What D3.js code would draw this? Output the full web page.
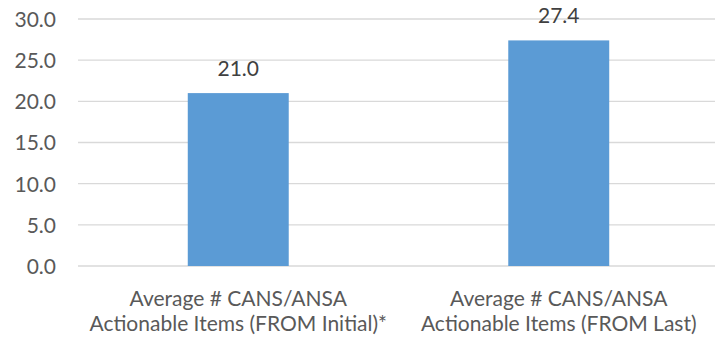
<!DOCTYPE html>
<html><head><meta charset="utf-8">
<script src="https://cdn.jsdelivr.net/npm/d3@7"></script>
<style>body{margin:0;background:#fff}svg{display:block}text{font-family:Lato,"Open Sans",sans-serif}</style>
</head><body><svg id="c" width="715" height="339"></svg>
<script>
const categories = [["Average # CANS/ANSA","Actionable Items (FROM Initial)*"],["Average # CANS/ANSA","Actionable Items (FROM Last)"]];
const values = [21.0, 27.4];
const yTicks = [0,5,10,15,20,25,30];

(function(){
const svg = d3.select("#c");
const mLeft = 78, mRight = 719, mTop = 19, mBottom = 266;
const x = d3.scaleBand().domain(d3.range(categories.length)).range([mLeft,mRight]).padding(0);
const y = d3.scaleLinear().domain([0,30]).range([mBottom,mTop]);
const barW = x.bandwidth()*0.315;

svg.append("g").selectAll("line").data(yTicks).join("line")
  .attr("x1",mLeft).attr("x2",mRight).attr("y1",d=>y(d)).attr("y2",d=>y(d))
  .attr("stroke","#d9d9d9").attr("stroke-width",1.3);

const yAxis = d3.axisLeft(y).tickValues(yTicks).tickFormat(d3.format(".1f")).tickSize(0).tickPadding(0);
const ga = svg.append("g").attr("transform",`translate(${mLeft-22},0)`).call(yAxis);
ga.select(".domain").remove();
ga.selectAll("text").attr("font-size",21).attr("fill","#595959").attr("font-family","Lato").attr("dy","0.35em");

svg.append("g").selectAll("rect").data(values).join("rect")
  .attr("x",(d,i)=>x(i)+x.bandwidth()/2-barW/2).attr("width",barW)
  .attr("y",d=>y(d)).attr("height",d=>mBottom-y(d)).attr("fill","#5B9BD5");

svg.append("g").selectAll("text").data(values).join("text")
  .attr("x",(d,i)=>x(i)+x.bandwidth()/2).attr("y",d=>y(d)-17)
  .attr("text-anchor","middle").attr("font-size",21).attr("fill","#404040")
  .text(d=>d3.format(".1f")(d));

const cg = svg.append("g").selectAll("text").data(categories).join("text")
  .attr("text-anchor","middle").attr("font-size",21).attr("fill","#595959");
cg.each(function(d,i){
  const t = d3.select(this);
  d.forEach((line,j)=>{
    t.append("tspan").attr("x",x(i)+x.bandwidth()/2).attr("y",306+j*24.5).text(line);
  });
});
})();
</script></body></html>
